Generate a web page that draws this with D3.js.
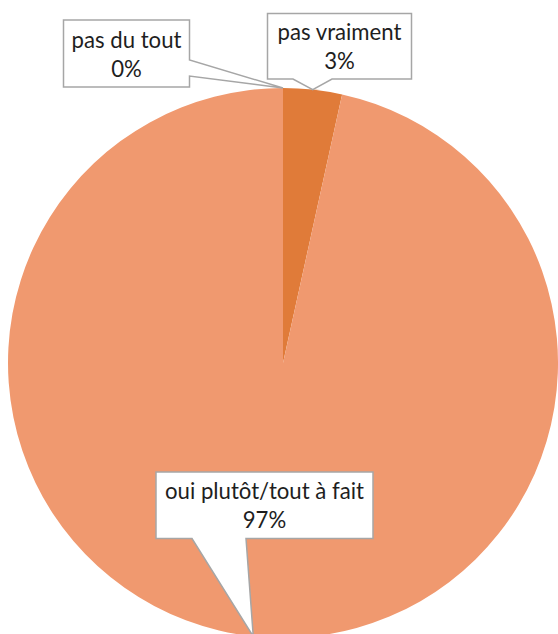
<!DOCTYPE html>
<html>
<head>
<meta charset="utf-8">
<script src="https://cdn.jsdelivr.net/npm/d3@7"></script>
<style>
  html, body { margin: 0; padding: 0; background: #ffffff; }
  svg { display: block; }
</style>
</head>
<body>
<svg id="chart" width="558" height="634"></svg>
<script>
// ---- data ----
const categories = ["pas du tout", "pas vraiment", "oui plutôt/tout à fait"];
const values = [0, 1, 28];
const colors = ["#E07B39", "#E07B39", "#F0996F"];

// ---- layout ----
const W = 558, H = 634;
const cx = 283, cy = 363, R = 275;
// callout boxes: [x0, y0, x1, y1], base side & base extent
const boxes = [
  { x0: 63.5, y0: 20, x1: 189.5, y1: 87, side: "right", b0: 60, b1: 76 },
  { x0: 267.5, y0: 13.5, x1: 411.5, y1: 79, side: "bottom", b0: 293, b1: 332 },
  { x0: 156, y0: 472, x1: 373, y1: 538.5, side: "bottom", b0: 192, b1: 246 }
];

const svg = d3.select("#chart");
const g = svg.append("g").attr("transform", `translate(${cx},${cy})`);

const total = d3.sum(values);
const pie = d3.pie().sort(null).value(d => d)(values);
const arc = d3.arc().innerRadius(0).outerRadius(R);

g.selectAll("path.slice")
  .data(pie)
  .join("path")
  .attr("class", "slice")
  .attr("d", arc)
  .attr("fill", (d, i) => colors[i]);

// font sizing to approximate Calibri widths
const fontFamily = "Lato, 'Open Sans', sans-serif";
const probe = svg.append("text").attr("font-family", fontFamily).attr("font-size", 100).text("pas du tout");
const pw = probe.node().getComputedTextLength();
probe.remove();
const fs = 100 * 110 / pw;

const lg = svg.append("g");
pie.forEach((d, i) => {
  const mid = (d.startAngle + d.endAngle) / 2;
  const tx = cx + R * Math.sin(mid);
  const ty = cy - R * Math.cos(mid);
  const b = boxes[i];
  let p;
  if (b.side === "right") {
    p = `M${b.x0},${b.y0}H${b.x1}V${b.b0}L${tx},${ty}L${b.x1},${b.b1}V${b.y1}H${b.x0}Z`;
  } else {
    p = `M${b.x0},${b.y0}H${b.x1}V${b.y1}H${b.b1}L${tx},${ty}L${b.b0},${b.y1}H${b.x0}Z`;
  }
  lg.append("path").attr("d", p)
    .attr("fill", "#ffffff")
    .attr("stroke", "#A6A6A6")
    .attr("stroke-width", 1.5)
    .attr("stroke-linejoin", "miter");
  const mx = (b.x0 + b.x1) / 2;
  const t = lg.append("text")
    .attr("font-family", fontFamily)
    .attr("font-size", fs)
    .attr("fill", "#1e1e1e")
    .attr("text-anchor", "middle");
  const base1 = (b.y0 + b.y1) / 2 - 6;
  t.append("tspan").attr("x", mx).attr("y", base1).text(categories[i]);
  t.append("tspan").attr("x", mx).attr("y", base1 + 29).text(Math.round(d.data / total * 100) + "%");
});
</script>
</body>
</html>
